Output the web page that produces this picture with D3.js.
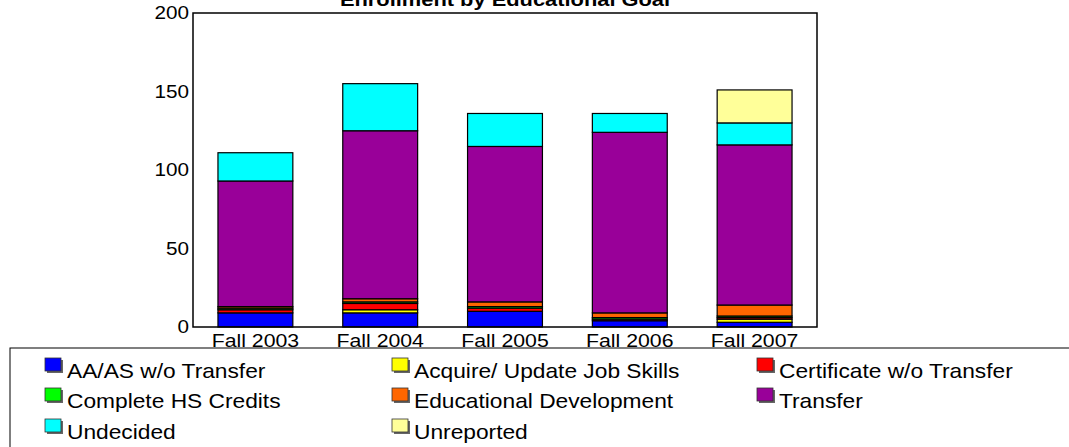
<!DOCTYPE html>
<html>
<head>
<meta charset="utf-8">
<script src="https://cdn.jsdelivr.net/npm/d3@7"></script>
<style>
  html, body { margin: 0; padding: 0; background: #fff; }
  svg { display: block; font-family: "Liberation Sans", Arial, sans-serif; }
</style>
</head>
<body>
<svg id="chart" width="1069" height="447"></svg>
<script>
const categories = ["Fall 2003", "Fall 2004", "Fall 2005", "Fall 2006", "Fall 2007"];
const seriesNames = ["AA/AS w/o Transfer", "Acquire/ Update Job Skills", "Certificate w/o Transfer",
  "Complete HS Credits", "Educational Development", "Transfer", "Undecided", "Unreported"];
const seriesColors = ["#0000FF", "#FFFF00", "#FF0000", "#00FF00", "#FF6600", "#990099", "#00FFFF", "#FFFF99"];
const aaas        = [9, 9, 10, 4, 3];
const jobSkills   = [0, 2, 0, 0, 2];
const certificate = [2, 4, 2, 1, 1];
const hsCredits   = [1, 1, 1, 1, 1];
const eduDev      = [1, 2, 3, 3, 7];
const transfer    = [80, 107, 99, 115, 102];
const undecided   = [18, 30, 21, 12, 14];
const unreported  = [0, 0, 0, 0, 21];
const yTicks = [0, 50, 100, 150, 200];
const titleText = "Enrollment by Educational Goal";

const seriesValues = [aaas, jobSkills, certificate, hsCredits, eduDev, transfer, undecided, unreported];
const rows = categories.map((c, i) => {
  const r = { cat: c };
  seriesNames.forEach((s, j) => r[s] = seriesValues[j][i]);
  return r;
});

const SX = 1.15; // horizontal text stretch
const svg = d3.select("#chart");
const pLeft = 193, pRight = 817, pTop = 13, pBottom = 327;

const x = d3.scaleBand().domain(categories).range([pLeft, pRight]).paddingInner(0.4).paddingOuter(0.2);
const y = d3.scaleLinear().domain([0, 200]).range([pBottom, pTop]);
const color = d3.scaleOrdinal().domain(seriesNames).range(seriesColors);

const stack = d3.stack().keys(seriesNames)(rows);

svg.append("g").selectAll("g").data(stack).join("g")
  .attr("fill", d => color(d.key))
  .selectAll("rect").data(d => d).join("rect")
  .attr("x", d => x(d.data.cat))
  .attr("width", x.bandwidth())
  .attr("y", d => y(d[1]))
  .attr("height", d => y(d[0]) - y(d[1]))
  .attr("stroke", "#000")
  .attr("stroke-width", 1.2);

// frame
svg.append("rect").attr("x", pLeft).attr("y", pTop).attr("width", pRight - pLeft).attr("height", pBottom - pTop)
  .attr("fill", "none").attr("stroke", "#000").attr("stroke-width", 1.5);

// y axis
const ya = svg.append("g").attr("transform", `translate(${pLeft},0)`)
  .call(d3.axisLeft(y).tickValues(yTicks).tickSize(0).tickPadding(4));
ya.select(".domain").remove();
ya.selectAll("text").attr("font-size", 18).attr("font-family", "Liberation Sans, Arial, sans-serif")
  .attr("fill", "#000")
  .attr("x", -4 / SX).attr("transform", `scale(${SX},1)`);

// x axis
const xa = svg.append("g").attr("transform", `translate(0,${pBottom})`)
  .call(d3.axisBottom(x).tickSize(0).tickPadding(7));
xa.select(".domain").remove();
xa.selectAll("text").attr("font-size", 18.5).attr("font-family", "Liberation Sans, Arial, sans-serif")
  .attr("fill", "#000").attr("transform", `scale(${SX},1)`);

// title
svg.append("text")
  .attr("transform", `translate(${(pLeft + pRight) / 2},6) scale(${SX},1)`)
  .attr("text-anchor", "middle").attr("font-size", 19).attr("font-weight", "bold")
  .text(titleText);

// legend
svg.append("rect").attr("x", 10).attr("y", 348).attr("width", 1080).attr("height", 120)
  .attr("fill", "#fff").attr("stroke", "#000").attr("stroke-width", 1);
const colX = [45, 392, 757];
const rowY = [358, 388, 419];
const lg = svg.append("g").selectAll("g").data(seriesNames).join("g")
  .attr("transform", (d, i) => `translate(${colX[i % 3]},${rowY[Math.floor(i / 3)]})`);
lg.append("rect").attr("x", 2).attr("y", 2).attr("width", 16).attr("height", 13).attr("fill", "#666");
lg.append("rect").attr("x", 0).attr("y", 0).attr("width", 16).attr("height", 13)
  .attr("fill", d => color(d)).attr("stroke", "#333").attr("stroke-width", 0.8);
lg.append("text").attr("transform", `translate(22,20) scale(1.11,1)`)
  .attr("font-size", 20.5).text(d => d);
</script>
</body>
</html>
